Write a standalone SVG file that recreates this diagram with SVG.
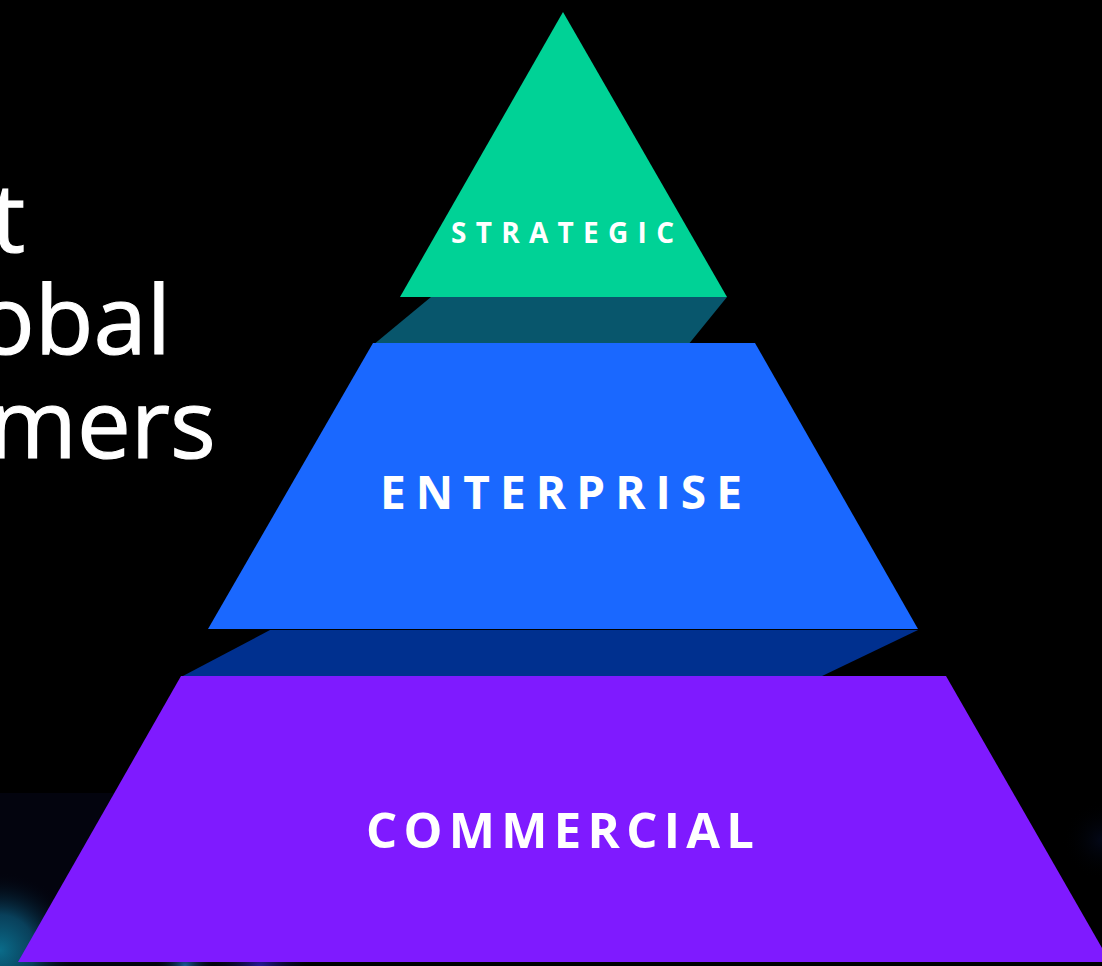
<svg xmlns="http://www.w3.org/2000/svg" width="1102" height="966" viewBox="0 0 1102 966">
<defs>
<radialGradient id="glowL" cx="0" cy="950" r="78" gradientUnits="userSpaceOnUse">
<stop offset="0" stop-color="#0a6c8a"/>
<stop offset="0.45" stop-color="#0a4f6e" stop-opacity="0.8"/>
<stop offset="1" stop-color="#03040f" stop-opacity="0"/>
</radialGradient>
<radialGradient id="glowB1" cx="185" cy="966" r="30" gradientUnits="userSpaceOnUse">
<stop offset="0" stop-color="#1b5a9a"/>
<stop offset="1" stop-color="#03040f" stop-opacity="0"/>
</radialGradient>
<radialGradient id="glowB2" cx="260" cy="968" r="50" gradientUnits="userSpaceOnUse">
<stop offset="0" stop-color="#2a1aa0"/>
<stop offset="1" stop-color="#03040f" stop-opacity="0"/>
</radialGradient>
<radialGradient id="glowR" cx="1102" cy="840" r="40" gradientUnits="userSpaceOnUse">
<stop offset="0" stop-color="#030818"/>
<stop offset="1" stop-color="#000000" stop-opacity="0"/>
</radialGradient>
<style>
.title{font-family:"Open Sans","Noto Sans",sans-serif;font-size:96px;fill:#ffffff;stroke:#ffffff;stroke-width:1.2px}
.lbl{font-family:"Open Sans","Noto Sans",sans-serif;font-weight:700;fill:#ffffff}
</style>
</defs>
<rect width="1102" height="966" fill="#000000"/>
<rect x="0" y="793" width="300" height="173" fill="#03040e"/>
<rect x="1060" y="800" width="42" height="80" fill="url(#glowR)"/>
<rect x="0" y="860" width="110" height="106" fill="url(#glowL)"/>
<rect x="150" y="940" width="80" height="26" fill="url(#glowB1)"/>
<rect x="200" y="930" width="150" height="36" fill="url(#glowB2)"/>
<g id="title">
<text class="title" x="-9" y="252">t</text>
<text class="title" x="-23" y="354">obal</text>
<text class="title" x="-12" y="458">mers</text>
</g>
<g id="connectors">
<polygon id="shadow-top" points="431,297 727,297 688,345 373,345" fill="#08566c"/>
<polygon id="shadow-mid" points="270,630 918,630 820,677 181,677" fill="#00308f"/>
</g>
<g id="commercial">
<polygon points="181,676 946,676 1110,962 18,962" fill="#7f1aff"/>
<text class="lbl" x="366" y="848" font-size="49" textLength="388">COMMERCIAL</text>
</g>
<g id="enterprise">
<polygon points="373,343 755,343 918,629 208,629" fill="#1a68ff"/>
<text class="lbl" x="380" y="509" font-size="46" textLength="362">ENTERPRISE</text>
</g>
<g id="strategic">
<polygon points="563,12 727,297 400,297" fill="#00d296"/>
<text class="lbl" x="451" y="243" font-size="28" textLength="223">STRATEGIC</text>
</g>
</svg>
